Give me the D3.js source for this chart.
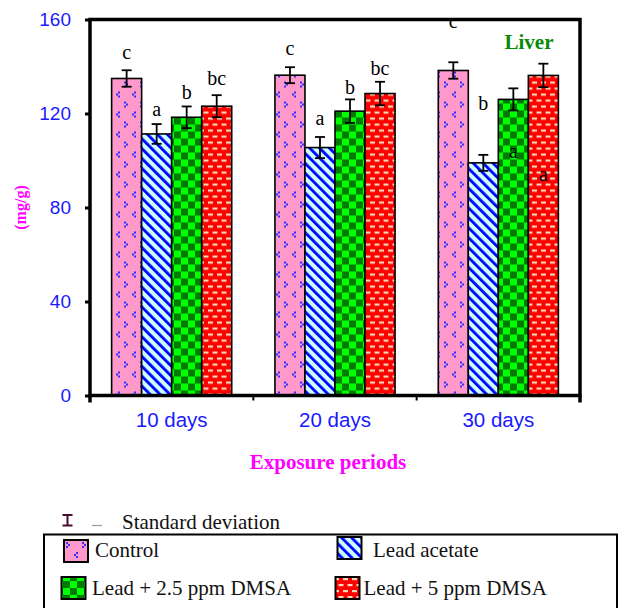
<!DOCTYPE html>
<html lang="en">
<head>
<meta charset="UTF-8">
<title>Liver</title>
<script src="https://d3js.org/d3.v7.min.js"></script>
<style>
  body { margin: 0; background: #fff; }
  svg { display: block; }
  .serif { font-family: "Liberation Serif", "Times New Roman", serif; }
  .sans { font-family: "Liberation Sans", Arial, sans-serif; }
</style>
</head>
<body>
<svg id="chart"></svg>
<script>
// ---- data ----
var periods = ["10 days", "20 days", "30 days"];
var groups = ["Control", "Lead acetate", "Lead + 2.5 ppm DMSA", "Lead + 5 ppm DMSA"];
var control      = [134.9, 136.3, 138.3];
var leadAcetate  = [111.3, 105.5,  99.0];
var lead25       = [118.4, 121.0, 126.0];
var lead5        = [123.1, 128.5, 136.2];
var controlSD     = [3.5, 3.4, 3.5];
var leadAcetateSD = [4.2, 4.5, 3.4];
var lead25SD      = [4.6, 5.0, 4.7];
var lead5SD       = [4.7, 5.0, 5.0];
// significance letters and the value level their baseline sits at
var letters   = [["c","a","b","bc"], ["c","a","b","bc"], ["c","b","a","a"]];
var letterAt  = [[143.0, 118.8, 126.0, 132.3], [144.8, 115.0, 128.4, 136.3], [156.5, 121.7, 101.1, 91.1]];
var yTicks = [0, 40, 80, 120, 160];

var config = {
  width: 620,
  height: 608,
  margin: { top: 19.5, right: 40, bottom: 212.5, left: 90 }
};

var means = [control, leadAcetate, lead25, lead5];
var sds = [controlSD, leadAcetateSD, lead25SD, lead5SD];
var fills = ["url(#pControl)", "url(#pLead)", "url(#pLead25)", "url(#pLead5)"];

var rows = [];
periods.forEach(function(p, i) {
  groups.forEach(function(g, j) {
    rows.push({ period: p, group: g, gi: j, value: means[j][i], sd: sds[j][i],
                letter: letters[i][j], at: letterAt[i][j] });
  });
});

var m = config.margin,
    w = config.width - m.left - m.right,
    h = config.height - m.top - m.bottom;

var svg = d3.select("#chart")
    .attr("width", config.width)
    .attr("height", config.height);

// ---- fill patterns ----
var defs = svg.append("defs");

var pc = defs.append("pattern").attr("id", "pControl")
    .attr("patternUnits", "userSpaceOnUse").attr("width", 16).attr("height", 20);
pc.append("rect").attr("width", 16).attr("height", 20).attr("fill", "#ff99cc");
// ">" then "<" made of small dots
[[2,2],[4,4],[2,6]].concat([[12,12],[10,14],[12,16]]).forEach(function(d) {
  pc.append("rect").attr("x", d[0]).attr("y", d[1]).attr("width", 2).attr("height", 2).attr("fill", "#3030ff");
});

var pl = defs.append("pattern").attr("id", "pLead")
    .attr("patternUnits", "userSpaceOnUse").attr("width", 7).attr("height", 10)
    .attr("patternTransform", "rotate(-45)");
pl.append("rect").attr("width", 7).attr("height", 10).attr("fill", "#ccffff");
pl.append("rect").attr("width", 2.8).attr("height", 10).attr("fill", "#0000ff");

var pg = defs.append("pattern").attr("id", "pLead25")
    .attr("patternUnits", "userSpaceOnUse").attr("width", 14).attr("height", 14);
pg.append("rect").attr("width", 14).attr("height", 14).attr("fill", "#00ff00");
pg.append("rect").attr("width", 7).attr("height", 7).attr("fill", "#007a00");
pg.append("rect").attr("x", 7).attr("y", 7).attr("width", 7).attr("height", 7).attr("fill", "#007a00");

var pr = defs.append("pattern").attr("id", "pLead5")
    .attr("patternUnits", "userSpaceOnUse").attr("width", 9).attr("height", 12);
pr.append("rect").attr("width", 9).attr("height", 12).attr("fill", "#ff0000");
[[1,2],[5.5,8],[-3.5,8]].forEach(function(d) {
  pr.append("rect").attr("x", d[0]).attr("y", d[1]).attr("width", 5).attr("height", 2.2).attr("fill", "#f2d6b8");
});

// ---- scales ----
var x0 = d3.scaleBand().domain(periods).range([0, w]).padding(0);
var x1 = d3.scaleBand().domain(groups).range([0, x0.bandwidth()]).paddingInner(0).paddingOuter(0.72);
var y = d3.scaleLinear().domain([0, 160]).range([h, 0]);

var g = svg.append("g").attr("transform", "translate(" + m.left + "," + m.top + ")");

// bars
g.selectAll(".bar")
  .data(rows)
  .enter().append("rect")
    .attr("class", "bar")
    .attr("x", function(d) { return x0(d.period) + x1(d.group); })
    .attr("y", function(d) { return y(d.value); })
    .attr("width", x1.bandwidth())
    .attr("height", function(d) { return h - y(d.value); })
    .attr("fill", function(d) { return fills[d.gi]; })
    .attr("stroke", "#000")
    .attr("stroke-width", 1.6);

// error bars
var eb = g.selectAll(".err").data(rows).enter().append("g").attr("class", "err")
    .attr("stroke", "#000").attr("stroke-width", 1.8);
function cx(d) { return x0(d.period) + x1(d.group) + x1.bandwidth() / 2; }
eb.append("line")
    .attr("x1", cx).attr("x2", cx)
    .attr("y1", function(d) { return y(d.value + d.sd); })
    .attr("y2", function(d) { return y(d.value - d.sd); });
eb.append("line")
    .attr("x1", function(d) { return cx(d) - 5; }).attr("x2", function(d) { return cx(d) + 5; })
    .attr("y1", function(d) { return y(d.value + d.sd); })
    .attr("y2", function(d) { return y(d.value + d.sd); });
eb.append("line")
    .attr("x1", function(d) { return cx(d) - 5; }).attr("x2", function(d) { return cx(d) + 5; })
    .attr("y1", function(d) { return y(d.value - d.sd); })
    .attr("y2", function(d) { return y(d.value - d.sd); });

// significance letters
g.selectAll(".letter").data(rows).enter().append("text")
    .attr("class", "letter serif")
    .attr("x", cx)
    .attr("y", function(d) { return y(d.at); })
    .attr("text-anchor", "middle")
    .attr("font-size", 20)
    .text(function(d) { return d.letter; });

// frame
g.append("rect").attr("width", w).attr("height", h)
    .attr("fill", "none").attr("stroke", "#000").attr("stroke-width", 3.5);

// y axis
var yAxis = g.append("g").attr("class", "sans")
    .call(d3.axisLeft(y).tickValues(yTicks).tickSize(5).tickPadding(14));
yAxis.select(".domain").remove();
yAxis.selectAll(".tick line").attr("stroke", "#000").attr("stroke-width", 3);
yAxis.selectAll(".tick text").attr("fill", "#1a1aff").attr("font-size", 19).attr("font-family", "Liberation Sans, Arial, sans-serif");

// x axis: labels centred, ticks on the band edges
var xAxis = g.append("g").attr("transform", "translate(0," + h + ")")
    .call(d3.axisBottom(x0).tickSize(0).tickPadding(17));
xAxis.select(".domain").remove();
xAxis.selectAll(".tick text").attr("fill", "#1a1aff").attr("font-size", 20.5).attr("font-family", "Liberation Sans, Arial, sans-serif");
var edges = periods.map(function(p) { return x0(p); }).concat([w]);
g.selectAll(".xedge").data(edges).enter().append("line")
    .attr("x1", function(d) { return d; }).attr("x2", function(d) { return d; })
    .attr("y1", h).attr("y2", function(d, i) { return h + (i == 0 || i == edges.length - 1 ? 7 : 5); })
    .attr("stroke", "#000").attr("stroke-width", function(d, i) { return (i == 0 || i == edges.length - 1) ? 3.5 : 2; });

// titles
g.append("text").attr("class", "serif")
    .attr("transform", "translate(" + (20 - m.left) + "," + y(80) + ")rotate(-90)")
    .attr("text-anchor", "middle").attr("dy", "0.35em")
    .attr("font-size", 16).attr("font-weight", "bold").attr("fill", "#ff00ff")
    .text("(mg/g)");

svg.append("text").attr("class", "serif")
    .attr("x", 328).attr("y", 469)
    .attr("text-anchor", "middle")
    .attr("font-size", 21).attr("font-weight", "bold").attr("fill", "#ff00ff")
    .text("Exposure periods");

svg.append("text").attr("class", "serif")
    .attr("x", 529).attr("y", 49)
    .attr("text-anchor", "middle")
    .attr("font-size", 21).attr("font-weight", "bold").attr("fill", "#088a08")
    .text("Liver");

// ---- legend ----
var sdKey = svg.append("g").attr("stroke", "#4a0a2a").attr("stroke-width", 2);
sdKey.append("line").attr("x1", 67.5).attr("x2", 67.5).attr("y1", 515).attr("y2", 525.5);
sdKey.append("line").attr("x1", 62.5).attr("x2", 72.5).attr("y1", 515).attr("y2", 515);
sdKey.append("line").attr("x1", 62.5).attr("x2", 72.5).attr("y1", 525.5).attr("y2", 525.5);
svg.append("line").attr("x1", 92).attr("x2", 102).attr("y1", 525.5).attr("y2", 525.5)
    .attr("stroke", "#999").attr("stroke-width", 1.2);
svg.append("text").attr("class", "serif").attr("x", 122).attr("y", 529)
    .attr("font-size", 21).attr("fill", "#111").text("Standard deviation");

svg.append("rect").attr("x", 44).attr("y", 534.5).attr("width", 573).attr("height", 90)
    .attr("fill", "none").attr("stroke", "#000").attr("stroke-width", 2);

var legendPos = [
  { sx: 64, sy: 540, tx: 95, ty: 557 },
  { sx: 337.5, sy: 537, tx: 373, ty: 557 },
  { sx: 61.5, sy: 577, tx: 92, ty: 595 },
  { sx: 335.5, sy: 577, tx: 363.5, ty: 595 }
];
var leg = svg.selectAll(".leg").data(groups).enter().append("g").attr("class", "leg");
leg.append("rect")
    .attr("x", function(d, i) { return legendPos[i].sx; })
    .attr("y", function(d, i) { return legendPos[i].sy; })
    .attr("width", 24).attr("height", 22)
    .attr("fill", function(d, i) { return fills[i]; })
    .attr("stroke", "#000").attr("stroke-width", 2);
leg.append("text").attr("class", "serif")
    .attr("x", function(d, i) { return legendPos[i].tx; })
    .attr("y", function(d, i) { return legendPos[i].ty; })
    .attr("font-size", 21).attr("fill", "#111")
    .text(function(d) { return d; });
</script>
</body>
</html>
